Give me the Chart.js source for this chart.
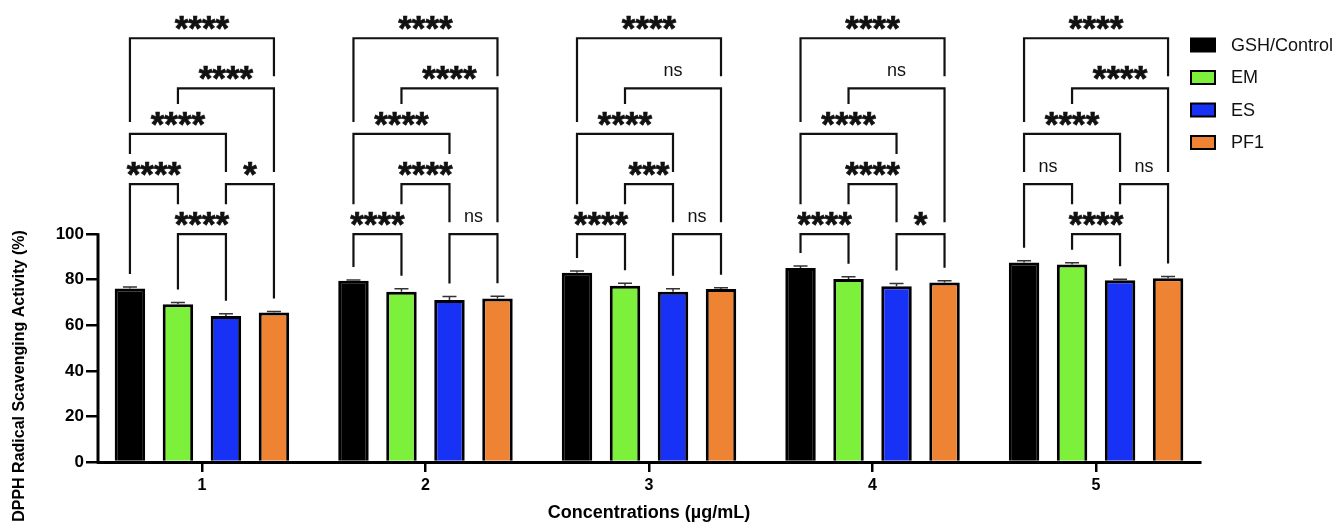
<!DOCTYPE html>
<html>
<head>
<meta charset="utf-8">
<script src="https://cdn.jsdelivr.net/npm/chart.js@4.4.1/dist/chart.umd.min.js"></script>
<style>
  html, body { margin: 0; padding: 0; background: #fff; }
  #wrap { width: 1340px; height: 525px; position: relative; }
</style>
</head>
<body>
<div id="wrap"><canvas id="chart"></canvas></div>
<script>
const concentrations = [1, 2, 3, 4, 5];
const groupNames = ["GSH/Control", "EM", "ES", "PF1"];
const gshValues = [76.2, 79.5, 83.1, 85.1, 87.6];
const emValues = [69.2, 74.7, 77.4, 80.3, 86.7];
const esValues = [64.1, 71.1, 74.7, 77.1, 79.8];
const pf1Values = [65.6, 71.8, 75.9, 78.8, 80.6];
const gshErr = [0.6, 0.4, 0.7, 0.9, 0.7];
const emErr = [0.8, 1.3, 1.1, 1.0, 0.8];
const esErr = [1.0, 1.5, 1.3, 1.2, 0.4];
const pf1Err = [0.5, 1.0, 0.6, 0.8, 0.8];
const yTicks = [0, 20, 40, 60, 80, 100];
const colors = ["#000000", "#7cf03a", "#1732f4", "#ef8334"];

// comparisons inside each concentration: [bar a, bar b]
const pairs = [[0, 3], [1, 3], [0, 2], [0, 1], [2, 3], [1, 2]];
// bracket heights in % units (drawn above the 0-100 axis)
const bracketLevels = [100, 122, 144, 164, 186];
// level index of each pair, per concentration
const pairRows = [
  [4, 3, 2, 1, 1, 0],
  [4, 3, 2, 0, 0, 1],
  [4, 3, 2, 0, 0, 1],
  [4, 3, 2, 0, 0, 1],
  [4, 3, 2, 1, 1, 0],
];
const sigLabels = [
  ["****", "****", "****", "****", "*", "****"],
  ["****", "****", "****", "****", "ns", "****"],
  ["****", "ns", "****", "****", "ns", "***"],
  ["****", "ns", "****", "****", "*", "****"],
  ["****", "****", "****", "ns", "ns", "****"],
];

const FONT = "'Liberation Sans', Arial, sans-serif";
const STAR_FONT = `bold 35px ${FONT}`;

const errorBars = {
  id: "errorBars",
  afterDatasetsDraw(chart) {
    const ctx = chart.ctx;
    const y = chart.scales.y;
    ctx.save();
    ctx.strokeStyle = "#333";
    ctx.lineWidth = 1.5;
    chart.data.datasets.forEach((ds, d) => {
      chart.getDatasetMeta(d).data.forEach((bar, i) => {
        const top = y.getPixelForValue(ds.data[i] + ds.errors[i]);
        ctx.beginPath();
        ctx.moveTo(bar.x, bar.y);
        ctx.lineTo(bar.x, top);
        ctx.moveTo(bar.x - 7, top);
        ctx.lineTo(bar.x + 7, top);
        ctx.stroke();
      });
    });
    ctx.restore();
  }
};

const brackets = {
  id: "brackets",
  afterDraw(chart) {
    const ctx = chart.ctx;
    const y = chart.scales.y;
    const sets = chart.data.datasets;
    const metas = sets.map((_, d) => chart.getDatasetMeta(d));
    ctx.save();
    ctx.textAlign = "center";
    ctx.textBaseline = "alphabetic";
    concentrations.forEach((c, g) => {
      const xs = metas.map(m => m.data[g].x);
      const tops = sets.map(ds => y.getPixelForValue(ds.data[g] + ds.errors[g]));
      const items = pairs.map(([a, b], k) => {
        const text = sigLabels[g][k];
        const ns = text === "ns";
        const yb = y.getPixelForValue(bracketLevels[pairRows[g][k]]);
        ctx.font = ns ? `18px ${FONT}` : STAR_FONT;
        const m = ctx.measureText(text);
        const cx = (xs[a] + xs[b]) / 2;
        const base = yb - (ns ? 12 : 8) - m.actualBoundingBoxDescent;
        return {
          a, b, yb, text, ns, cx, base, font: ctx.font,
          top: base - m.actualBoundingBoxAscent,
          left: cx - m.actualBoundingBoxLeft,
          right: cx + m.actualBoundingBoxRight
        };
      });
      // legs stop a little above whatever sits underneath them
      const legEnd = (it, i) => {
        let lim = tops[i] - 13;
        items.forEach(o => {
          if (o.yb <= it.yb) return;
          if (o.a <= i && i <= o.b) lim = Math.min(lim, o.yb - 12);
          if (o.left <= xs[i] + 1 && o.right >= xs[i] - 1) lim = Math.min(lim, o.top - 8);
        });
        return lim;
      };
      items.forEach(it => {
        ctx.strokeStyle = "#111";
        ctx.lineWidth = 2.2;
        ctx.beginPath();
        ctx.moveTo(xs[it.a], legEnd(it, it.a));
        ctx.lineTo(xs[it.a], it.yb);
        ctx.lineTo(xs[it.b], it.yb);
        ctx.lineTo(xs[it.b], legEnd(it, it.b));
        ctx.stroke();
        ctx.font = it.font;
        ctx.fillStyle = "#111";
        ctx.fillText(it.text, it.cx, it.base);
        if (!it.ns) {
          ctx.lineWidth = 0.7;
          ctx.strokeText(it.text, it.cx, it.base);
        }
      });
    });
    ctx.restore();
  }
};

const axisExtras = {
  id: "axisExtras",
  afterDraw(chart) {
    const ctx = chart.ctx;
    const y = chart.scales.y;
    const left = chart.chartArea.left;
    ctx.save();
    ctx.strokeStyle = "#000";
    ctx.lineWidth = 3;
    ctx.beginPath();
    ctx.moveTo(left, y.getPixelForValue(100) - 1);
    ctx.lineTo(left, y.getPixelForValue(0) + 1.5);
    ctx.stroke();
    ctx.translate(20, 376);
    ctx.rotate(-Math.PI / 2);
    ctx.font = `bold 16px ${FONT}`;
    ctx.textAlign = "center";
    ctx.textBaseline = "middle";
    ctx.fillStyle = "#000";
    ctx.fillText("DPPH Radical Scavenging Activity (%)", 0, 0);
    ctx.restore();
  }
};

const sideLegend = {
  id: "sideLegend",
  afterDraw(chart) {
    const ctx = chart.ctx;
    ctx.save();
    ctx.font = `18px ${FONT}`;
    ctx.textBaseline = "middle";
    ctx.textAlign = "left";
    chart.data.datasets.forEach((ds, i) => {
      const cy = 45 + i * 32.5;
      ctx.fillStyle = ds.backgroundColor;
      ctx.fillRect(1191, cy - 6.5, 24, 13);
      ctx.strokeStyle = "#000";
      ctx.lineWidth = 2;
      ctx.strokeRect(1191, cy - 6.5, 24, 13);
      ctx.fillStyle = "#111";
      ctx.fillText(ds.label, 1231, cy + 1);
    });
    ctx.restore();
  }
};

const valueSets = [gshValues, emValues, esValues, pf1Values];
const errSets = [gshErr, emErr, esErr, pf1Err];

new Chart(document.getElementById("chart"), {
  type: "bar",
  data: {
    labels: concentrations,
    datasets: groupNames.map((name, i) => ({
      label: name,
      data: valueSets[i],
      errors: errSets[i],
      backgroundColor: colors[i],
      borderColor: "#000",
      borderWidth: 3,
      borderSkipped: "start",
      categoryPercentage: 0.859,
      barPercentage: 0.635,
    })),
  },
  options: {
    responsive: true,
    maintainAspectRatio: false,
    animation: false,
    layout: { padding: { top: 20, right: 140, bottom: 0, left: 0 } },
    plugins: {
      legend: { display: false },
      tooltip: { enabled: false },
    },
    scales: {
      x: {
        type: "linear",
        min: 0.535,
        max: 5.465,
        offset: false,
        afterBuildTicks: (s) => { s.ticks = concentrations.map(v => ({ value: v })); },
        afterFit: (s) => { s.height = 63; },
        grid: {
          offset: false,
          drawOnChartArea: false,
          drawTicks: true,
          tickLength: 10,
          lineWidth: 2.5,
          tickWidth: 2.5,
          tickColor: "#000",
          color: "#000",
        },
        border: { display: true, color: "#000", width: 3 },
        ticks: { color: "#000", padding: 4, font: { family: FONT, size: 16, weight: "bold" } },
        title: {
          display: true,
          text: "Concentrations (µg/mL)",
          color: "#000",
          font: { family: FONT, size: 18, weight: "bold" },
          padding: { top: 0, bottom: 1 },
        },
      },
      y: {
        min: 0,
        max: 194,
        afterBuildTicks: (s) => { s.ticks = yTicks.map(v => ({ value: v })); },
        afterFit: (s) => { s.width = 98; },
        grid: {
          drawOnChartArea: false,
          drawTicks: true,
          tickLength: 12,
          lineWidth: 2.5,
          tickWidth: 2.5,
          tickColor: "#000",
          color: "#000",
        },
        border: { display: false },
        ticks: { color: "#000", padding: 2, font: { family: FONT, size: 17, weight: "bold" } },
      },
    },
  },
  plugins: [errorBars, brackets, axisExtras, sideLegend],
});
</script>
</body>
</html>
